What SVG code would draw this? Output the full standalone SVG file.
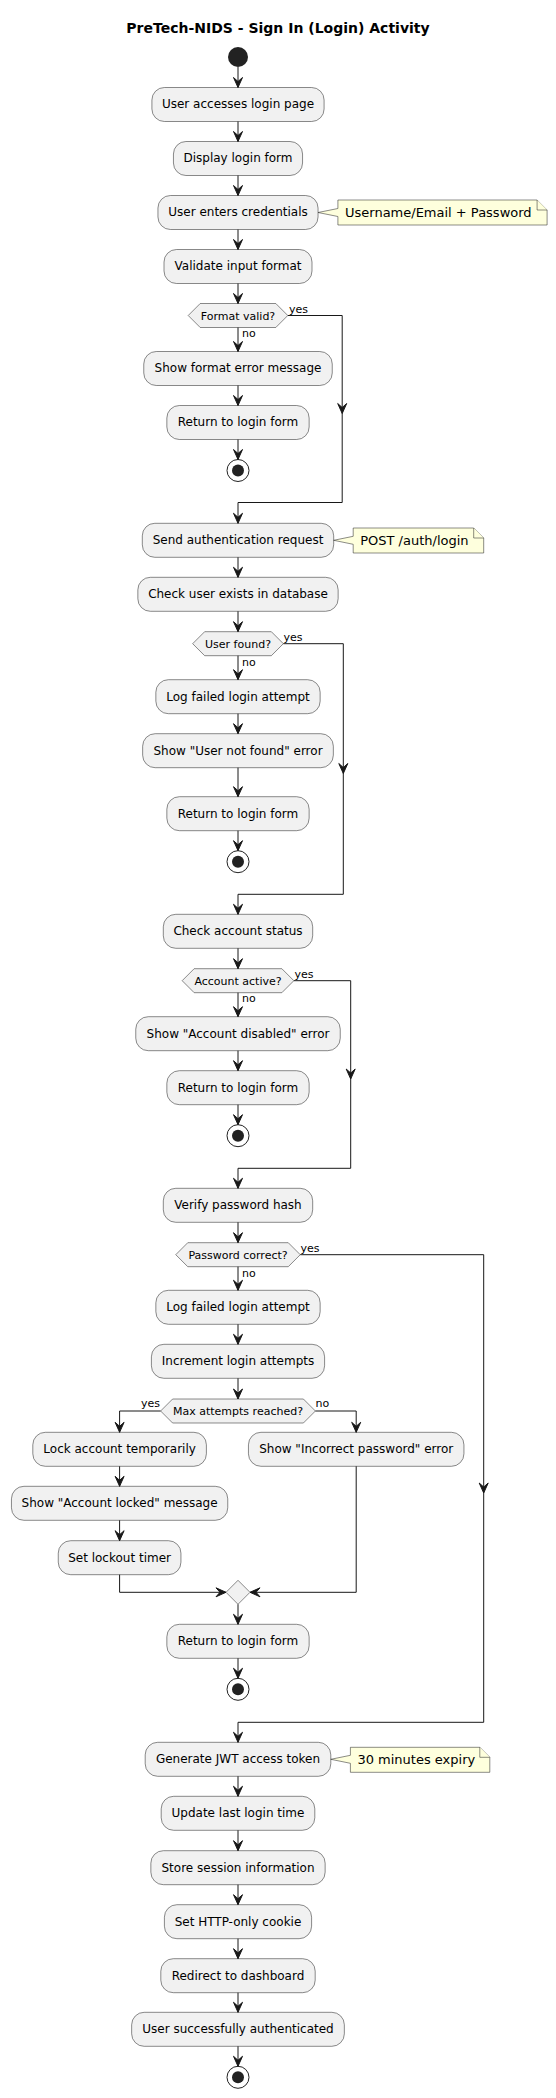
<svg xmlns="http://www.w3.org/2000/svg" xmlns:xlink="http://www.w3.org/1999/xlink" width="556" height="2098" viewBox="0 0 556 2098">
<style>
text{font-family:"DejaVu Sans","Liberation Sans",sans-serif;fill:#000}
.title{font-size:14px;font-weight:bold;text-anchor:middle}
.act rect{fill:#F1F1F1;stroke:#181818;stroke-width:0.5}
.act text{font-size:12px;text-anchor:middle}
.dec polygon{fill:#F1F1F1;stroke:#181818;stroke-width:0.5}
.dec text{font-size:11px;text-anchor:middle}
.note path{fill:#FEFFDD;stroke:#181818;stroke-width:0.5}
.note text{font-size:13px}
.guard{font-size:11px}
.conn path,.conn line{fill:none;stroke:#181818;stroke-width:1}
.ah{fill:#181818;stroke:#181818;stroke-width:1}
.start{fill:#222222}
.stop .o{fill:none;stroke:#222222;stroke-width:1}
.stop .i{fill:#222222}
</style>
<defs>
<path id="ad" class="ah" d="M-4.5,-10 L0,0 L4.5,-10 L0,-6 Z"/>
</defs>
<rect width="556" height="2098" fill="#FFFFFF"/>
<text class="title" x="278" y="32.5">PreTech-NIDS - Sign In (Login) Activity</text>

<g id="start"><circle class="start" cx="238" cy="57" r="10"/></g>

<g id="a1" class="act"><rect x="151.9" y="87.5" width="172.2" height="34" rx="12.5"/><text x="238" y="108.3">User accesses login page</text></g>
<g id="a2" class="act"><rect x="173.45" y="141.5" width="129.1" height="34" rx="12.5"/><text x="238" y="162.3">Display login form</text></g>
<g id="a3" class="act"><rect x="157.95" y="195.5" width="160.1" height="34" rx="12.5"/><text x="238" y="216.3">User enters credentials</text></g>
<g id="n1" class="note"><path d="M337.9,200 V208.5 L318.05,212.5 L337.9,216.5 V225 H547.1 V210 L537.1,200 Z"/><path d="M537.1,200 V210 H547.1"/><text x="345" y="217">Username/Email + Password</text></g>
<g id="a4" class="act"><rect x="164" y="249.5" width="148" height="34" rx="12.5"/><text x="238" y="270.3">Validate input format</text></g>
<g id="d1" class="dec"><polygon points="188.2,315.5 200.2,303.5 275.8,303.5 287.8,315.5 275.8,327.5 200.2,327.5"/><text x="238" y="319.5">Format valid?</text></g>
<g id="a5" class="act"><rect x="143.75" y="351.5" width="188.5" height="34" rx="12.5"/><text x="238" y="372.3">Show format error message</text></g>
<g id="a6" class="act"><rect x="166.85" y="405.5" width="142.3" height="34" rx="12.5"/><text x="238" y="426.3">Return to login form</text></g>
<g id="stop1" class="stop"><circle class="o" cx="238" cy="470.5" r="11"/><circle class="i" cx="238" cy="470.5" r="6"/></g>

<g id="a7" class="act"><rect x="142.3" y="523.3" width="191.4" height="34" rx="12.5"/><text x="238" y="544.1">Send authentication request</text></g>
<g id="n2" class="note"><path d="M353.2,528 V536.3 L333.7,540.3 L353.2,544.3 V553 H483.7 V538 L473.7,528 Z"/><path d="M473.7,528 V538 H483.7"/><text x="360.2" y="545">POST /auth/login</text></g>
<g id="a8" class="act"><rect x="137.85" y="577.3" width="200.3" height="34" rx="12.5"/><text x="238" y="598.1">Check user exists in database</text></g>
<g id="d2" class="dec"><polygon points="192.65,643.7 204.65,631.7 271.35,631.7 283.35,643.7 271.35,655.7 204.65,655.7"/><text x="238" y="647.7">User found?</text></g>
<g id="a9" class="act"><rect x="155.85" y="679.7" width="164.3" height="34" rx="12.5"/><text x="238" y="700.5">Log failed login attempt</text></g>
<g id="a10" class="act"><rect x="142.65" y="733.7" width="190.7" height="34" rx="12.5"/><text x="238" y="754.5">Show "User not found" error</text></g>
<g id="a11" class="act"><rect x="166.85" y="796.7" width="142.3" height="34" rx="12.5"/><text x="238" y="817.5">Return to login form</text></g>
<g id="stop2" class="stop"><circle class="o" cx="238" cy="861.7" r="11"/><circle class="i" cx="238" cy="861.7" r="6"/></g>

<g id="a12" class="act"><rect x="163.3" y="914.3" width="149.4" height="34" rx="12.5"/><text x="238" y="935.1">Check account status</text></g>
<g id="d3" class="dec"><polygon points="182.15,980.7 194.15,968.7 281.85,968.7 293.85,980.7 281.85,992.7 194.15,992.7"/><text x="238" y="984.7">Account active?</text></g>
<g id="a13" class="act"><rect x="135.75" y="1016.7" width="204.5" height="34" rx="12.5"/><text x="238" y="1037.5">Show "Account disabled" error</text></g>
<g id="a14" class="act"><rect x="166.85" y="1070.7" width="142.3" height="34" rx="12.5"/><text x="238" y="1091.5">Return to login form</text></g>
<g id="stop3" class="stop"><circle class="o" cx="238" cy="1135.7" r="11"/><circle class="i" cx="238" cy="1135.7" r="6"/></g>

<g id="a15" class="act"><rect x="163.3" y="1188.3" width="149.4" height="34" rx="12.5"/><text x="238" y="1209.1">Verify password hash</text></g>
<g id="d4" class="dec"><polygon points="175.75,1254.7 187.75,1242.7 288.25,1242.7 300.25,1254.7 288.25,1266.7 187.75,1266.7"/><text x="238" y="1258.7">Password correct?</text></g>
<g id="a16" class="act"><rect x="155.85" y="1290.3" width="164.3" height="34" rx="12.5"/><text x="238" y="1311.1">Log failed login attempt</text></g>
<g id="a17" class="act"><rect x="151.4" y="1344.3" width="173.2" height="34" rx="12.5"/><text x="238" y="1365.1">Increment login attempts</text></g>
<g id="d5" class="dec"><polygon points="160.6,1411 172.6,1399 303.4,1399 315.4,1411 303.4,1423 172.6,1423"/><text x="238" y="1415">Max attempts reached?</text></g>
<g id="a18" class="act"><rect x="32.8" y="1432.3" width="173.6" height="34" rx="12.5"/><text x="119.6" y="1453.1">Lock account temporarily</text></g>
<g id="a19" class="act"><rect x="248.45" y="1432.3" width="215.5" height="34" rx="12.5"/><text x="356.2" y="1453.1">Show "Incorrect password" error</text></g>
<g id="a20" class="act"><rect x="11.45" y="1486.3" width="216.3" height="34" rx="12.5"/><text x="119.6" y="1507.1">Show "Account locked" message</text></g>
<g id="a21" class="act"><rect x="58.25" y="1540.7" width="122.7" height="34" rx="12.5"/><text x="119.6" y="1561.5">Set lockout timer</text></g>
<g id="merge" class="dec"><polygon points="226,1592.3 238,1580.3 250,1592.3 238,1604.3"/></g>
<g id="a22" class="act"><rect x="166.85" y="1624.3" width="142.3" height="34" rx="12.5"/><text x="238" y="1645.1">Return to login form</text></g>
<g id="stop4" class="stop"><circle class="o" cx="238" cy="1689.3" r="11"/><circle class="i" cx="238" cy="1689.3" r="6"/></g>

<g id="a23" class="act"><rect x="145.2" y="1742.3" width="185.6" height="34" rx="12.5"/><text x="238" y="1763.1">Generate JWT access token</text></g>
<g id="n3" class="note"><path d="M350.4,1747.3 V1755.3 L330.8,1759.3 L350.4,1763.3 V1772.3 H489.8 V1757.3 L479.8,1747.3 Z"/><path d="M479.8,1747.3 V1757.3 H489.8"/><text x="357.4" y="1764.3">30 minutes expiry</text></g>
<g id="a24" class="act"><rect x="161.2" y="1796.3" width="153.6" height="34" rx="12.5"/><text x="238" y="1817.1">Update last login time</text></g>
<g id="a25" class="act"><rect x="150.85" y="1850.7" width="174.3" height="34" rx="12.5"/><text x="238" y="1871.5">Store session information</text></g>
<g id="a26" class="act"><rect x="164.4" y="1904.7" width="147.2" height="34" rx="12.5"/><text x="238" y="1925.5">Set HTTP-only cookie</text></g>
<g id="a27" class="act"><rect x="160.8" y="1958.7" width="154.4" height="34" rx="12.5"/><text x="238" y="1979.5">Redirect to dashboard</text></g>
<g id="a28" class="act"><rect x="131.65" y="2012.3" width="212.7" height="34" rx="12.5"/><text x="238" y="2033.1">User successfully authenticated</text></g>
<g id="stop5" class="stop"><circle class="o" cx="238" cy="2077.3" r="11"/><circle class="i" cx="238" cy="2077.3" r="6"/></g>

<g id="connectors" class="conn">
<path d="M238,67 V87.5"/><use xlink:href="#ad" x="238" y="87.5"/>
<path d="M238,121.5 V141.5"/><use xlink:href="#ad" x="238" y="141.5"/>
<path d="M238,175.5 V195.5"/><use xlink:href="#ad" x="238" y="195.5"/>
<path d="M238,229.5 V249.5"/><use xlink:href="#ad" x="238" y="249.5"/>
<path d="M238,283.5 V303.5"/><use xlink:href="#ad" x="238" y="303.5"/>
<path d="M238,327.5 V351.5"/><use xlink:href="#ad" x="238" y="351.5"/>
<path d="M238,385.5 V405.5"/><use xlink:href="#ad" x="238" y="405.5"/>
<path d="M238,439.5 V459.5"/><use xlink:href="#ad" x="238" y="459.5"/>
<path d="M287.8,315.5 H342.2 V502.5 H238 V523.3"/><use xlink:href="#ad" x="342.2" y="413.5"/><use xlink:href="#ad" x="238" y="523.3"/>
<text class="guard" x="289" y="312.5">yes</text>
<text class="guard" x="242" y="336.7">no</text>

<path d="M238,557.3 V577.3"/><use xlink:href="#ad" x="238" y="577.3"/>
<path d="M238,611.3 V631.7"/><use xlink:href="#ad" x="238" y="631.7"/>
<path d="M238,655.7 V679.7"/><use xlink:href="#ad" x="238" y="679.7"/>
<path d="M238,713.7 V733.7"/><use xlink:href="#ad" x="238" y="733.7"/>
<path d="M238,767.7 V796.7"/><use xlink:href="#ad" x="238" y="796.7"/>
<path d="M238,830.7 V850.7"/><use xlink:href="#ad" x="238" y="850.7"/>
<path d="M283.35,643.7 H343.3 V894.3 H238 V914.3"/><use xlink:href="#ad" x="343.3" y="773.5"/><use xlink:href="#ad" x="238" y="914.3"/>
<text class="guard" x="283.5" y="640.7">yes</text>
<text class="guard" x="242" y="665.7">no</text>

<path d="M238,948.3 V968.7"/><use xlink:href="#ad" x="238" y="968.7"/>
<path d="M238,992.7 V1016.7"/><use xlink:href="#ad" x="238" y="1016.7"/>
<path d="M238,1050.7 V1070.7"/><use xlink:href="#ad" x="238" y="1070.7"/>
<path d="M238,1104.7 V1124.7"/><use xlink:href="#ad" x="238" y="1124.7"/>
<path d="M293.85,980.7 H350.7 V1168.3 H238 V1188.3"/><use xlink:href="#ad" x="350.7" y="1079"/><use xlink:href="#ad" x="238" y="1188.3"/>
<text class="guard" x="294.5" y="977.7">yes</text>
<text class="guard" x="242" y="1001.7">no</text>

<path d="M238,1222.3 V1242.7"/><use xlink:href="#ad" x="238" y="1242.7"/>
<path d="M238,1266.7 V1290.3"/><use xlink:href="#ad" x="238" y="1290.3"/>
<path d="M238,1324.3 V1344.3"/><use xlink:href="#ad" x="238" y="1344.3"/>
<path d="M238,1378.3 V1399"/><use xlink:href="#ad" x="238" y="1399"/>
<path d="M160.6,1411 H119.6 V1432.3"/><use xlink:href="#ad" x="119.6" y="1432.3"/>
<path d="M315.4,1411 H356.2 V1432.3"/><use xlink:href="#ad" x="356.2" y="1432.3"/>
<text class="guard" x="160" y="1407.3" text-anchor="end">yes</text>
<text class="guard" x="315.5" y="1407.3">no</text>
<path d="M119.6,1466.3 V1486.3"/><use xlink:href="#ad" x="119.6" y="1486.3"/>
<path d="M119.6,1520.3 V1540.7"/><use xlink:href="#ad" x="119.6" y="1540.7"/>
<path d="M119.6,1574.7 V1592.3 H226"/><use xlink:href="#ad" transform="translate(226,1592.3) rotate(-90)"/>
<path d="M356.2,1466.3 V1592.3 H250"/><use xlink:href="#ad" transform="translate(250,1592.3) rotate(90)"/>
<path d="M238,1604.3 V1624.3"/><use xlink:href="#ad" x="238" y="1624.3"/>
<path d="M238,1658.3 V1678.3"/><use xlink:href="#ad" x="238" y="1678.3"/>
<path d="M300.25,1254.7 H483.7 V1722.3 H238 V1742.3"/><use xlink:href="#ad" x="483.7" y="1493"/><use xlink:href="#ad" x="238" y="1742.3"/>
<text class="guard" x="300.6" y="1251.7">yes</text>
<text class="guard" x="242" y="1276.7">no</text>

<path d="M238,1776.3 V1796.3"/><use xlink:href="#ad" x="238" y="1796.3"/>
<path d="M238,1830.3 V1850.7"/><use xlink:href="#ad" x="238" y="1850.7"/>
<path d="M238,1884.7 V1904.7"/><use xlink:href="#ad" x="238" y="1904.7"/>
<path d="M238,1938.7 V1958.7"/><use xlink:href="#ad" x="238" y="1958.7"/>
<path d="M238,1992.7 V2012.3"/><use xlink:href="#ad" x="238" y="2012.3"/>
<path d="M238,2046.3 V2066.3"/><use xlink:href="#ad" x="238" y="2066.3"/>
</g>
</svg>
